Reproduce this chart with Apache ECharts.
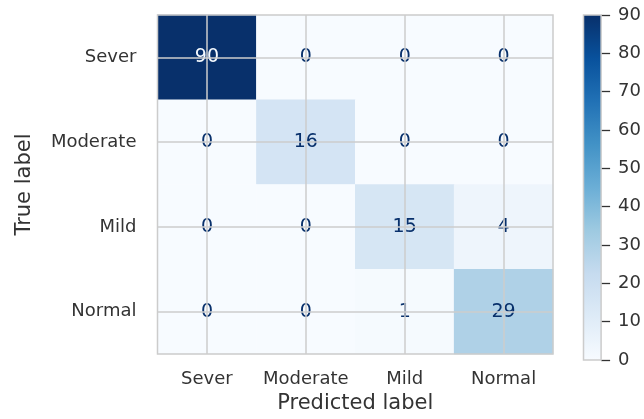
<!DOCTYPE html>
<html>
<head>
<meta charset="utf-8">
<script src="https://cdn.jsdelivr.net/npm/echarts@6/dist/echarts.min.js"></script>
<style>
  html, body { margin: 0; padding: 0; background: #ffffff; }
  #chart { width: 644px; height: 419px; }
</style>
</head>
<body>
<div id="chart"></div>
<script>
// Class names on both axes of the confusion matrix
const predictedLabels = ['Sever', 'Moderate', 'Mild', 'Normal'];
const trueLabels = ['Sever', 'Moderate', 'Mild', 'Normal'];

// Counts, one row per true class (columns follow predictedLabels)
const rowSever = [90, 0, 0, 0];
const rowModerate = [0, 16, 0, 0];
const rowMild = [0, 0, 15, 4];
const rowNormal = [0, 0, 1, 29];

// Colour bar scale
const colorbarMin = 0;
const colorbarMax = 90;
const colorbarStep = 10;

// matplotlib "Blues" colour map
const blues = ['#f7fbff', '#deebf7', '#c6dbef', '#9ecae1', '#6baed6',
               '#4292c6', '#2171b5', '#08519c', '#08306b'];

const FONT = 'DejaVu Sans';
const TEXT = '#333333';
const GRIDLINE = '#cccccc';

const rows = [rowSever, rowModerate, rowMild, rowNormal];
const threshold = (colorbarMin + colorbarMax) / 2;
const cells = [];
rows.forEach(function (row, r) {
  row.forEach(function (v, c) {
    cells.push({
      value: [c, r, v],
      label: { color: v > threshold ? blues[0] : blues[blues.length - 1] }
    });
  });
});

const centerLines = predictedLabels.map(function (_, i) { return { xAxis: i }; })
  .concat(trueLabels.map(function (_, i) { return { yAxis: i }; }));

const chart = echarts.init(document.getElementById('chart'), null, { renderer: 'canvas' });

chart.setOption({
  animation: false,
  backgroundColor: '#ffffff',
  textStyle: { fontFamily: FONT },
  grid: [
    { left: 157.5, top: 15, width: 395.5, height: 345, show: true, z: 5,
      backgroundColor: 'transparent', borderColor: GRIDLINE, borderWidth: 1.5 },
    { left: 583.5, top: 15, width: 20.5, height: 345, show: true, z: 5,
      backgroundColor: 'transparent', borderColor: GRIDLINE, borderWidth: 1.5 }
  ],
  xAxis: [
    {
      type: 'category', gridIndex: 0, data: predictedLabels, position: 'bottom',
      axisLine: { show: false }, axisTick: { show: false }, splitLine: { show: false },
      axisLabel: { color: TEXT, fontSize: 18, fontFamily: FONT, margin: 16, interval: 0 },
      name: 'Predicted label', nameLocation: 'middle', nameGap: 38,
      nameTextStyle: { color: TEXT, fontSize: 21, fontFamily: FONT }
    },
    {
      type: 'category', gridIndex: 1, data: ['scale'], show: false
    }
  ],
  yAxis: [
    {
      type: 'category', gridIndex: 0, data: trueLabels, inverse: true,
      axisLine: { show: false }, axisTick: { show: false }, splitLine: { show: false },
      axisLabel: { color: TEXT, fontSize: 18, fontFamily: FONT, margin: 21, interval: 0 },
      name: 'True label', nameLocation: 'middle', nameGap: 122,
      nameTextStyle: { color: TEXT, fontSize: 21, fontFamily: FONT }
    },
    {
      type: 'value', gridIndex: 1, position: 'right',
      min: colorbarMin, max: colorbarMax, interval: colorbarStep,
      axisLine: { show: false }, splitLine: { show: false },
      axisTick: { show: true, length: 9, lineStyle: { color: TEXT, width: 1.3 } },
      axisLabel: { color: TEXT, fontSize: 18, fontFamily: FONT, margin: 17 }
    }
  ],
  visualMap: {
    show: false, type: 'continuous', seriesIndex: 0,
    min: colorbarMin, max: colorbarMax, dimension: 2,
    inRange: { color: blues }
  },
  series: [
    {
      type: 'heatmap', xAxisIndex: 0, yAxisIndex: 0, data: cells,
      label: { show: true, fontSize: 19, fontFamily: FONT,
               formatter: function (p) { return p.value[2]; } },
      emphasis: { disabled: true },
      markLine: {
        silent: true, symbol: 'none', animation: false,
        label: { show: false },
        lineStyle: { color: GRIDLINE, width: 1.5, type: 'solid' },
        data: centerLines
      }
    },
    {
      type: 'bar', xAxisIndex: 1, yAxisIndex: 1, data: [colorbarMax],
      barWidth: '100%', silent: true,
      itemStyle: {
        color: new echarts.graphic.LinearGradient(0, 1, 0, 0,
          blues.map(function (c, i) { return { offset: i / (blues.length - 1), color: c }; }))
      }
    }
  ]
});
</script>
</body>
</html>
